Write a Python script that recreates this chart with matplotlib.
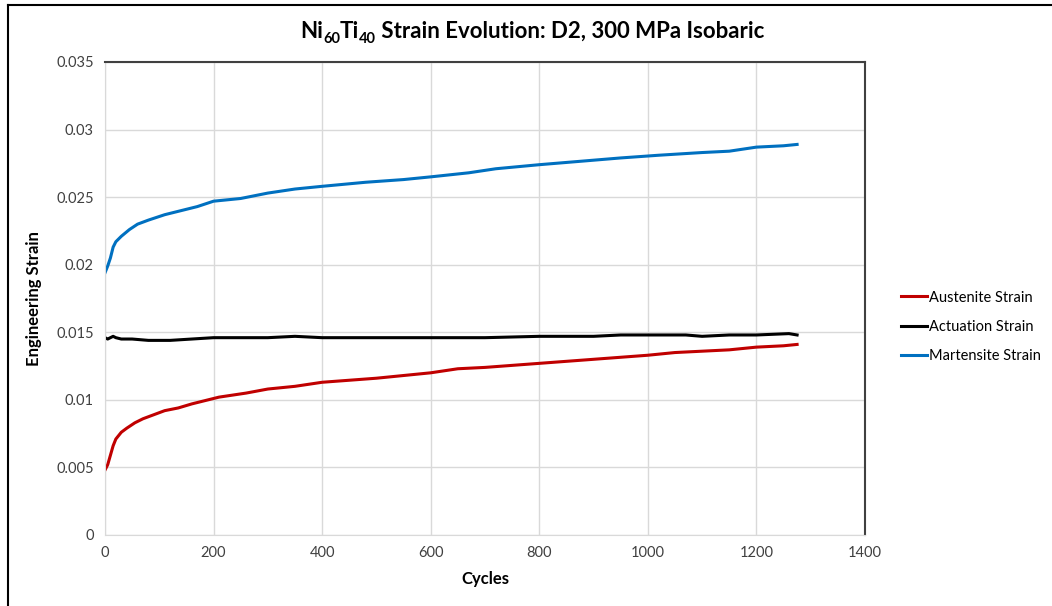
import matplotlib
matplotlib.use("Agg")
import matplotlib.pyplot as plt
from matplotlib.lines import Line2D

plt.rcParams["font.family"] = ["Lato", "DejaVu Sans"]

# Werte
mart_x = [0, 5, 10, 15, 20, 30, 45, 60, 80, 110, 140, 170, 200, 250, 300, 350, 400, 480, 550,
          600, 670, 720, 800, 860, 950, 1020, 1100, 1150, 1200, 1250, 1275]
mart_y = [0.0194, 0.0199, 0.0205, 0.0213, 0.0217, 0.0221, 0.0226, 0.0230, 0.0233, 0.0237, 0.0240,
          0.0243, 0.0247, 0.0249, 0.0253, 0.0256, 0.0258, 0.0261, 0.0263, 0.0265, 0.0268, 0.0271,
          0.0274, 0.0276, 0.0279, 0.0281, 0.0283, 0.0284, 0.0287, 0.0288, 0.0289]

aust_x = [0, 5, 10, 15, 20, 30, 40, 55, 70, 90, 110, 135, 160, 210, 260, 300, 350, 400, 500,
          600, 650, 700, 800, 900, 1000, 1050, 1100, 1150, 1200, 1250, 1275]
aust_y = [0.0048, 0.0052, 0.0059, 0.0066, 0.0071, 0.0076, 0.0079, 0.0083, 0.0086, 0.0089, 0.0092,
          0.0094, 0.0097, 0.0102, 0.0105, 0.0108, 0.0110, 0.0113, 0.0116, 0.0120, 0.0123, 0.0124,
          0.0127, 0.0130, 0.0133, 0.0135, 0.0136, 0.0137, 0.0139, 0.0140, 0.0141]

act_x = [0, 5, 10, 15, 20, 30, 50, 80, 120, 160, 200, 250, 300, 350, 400, 450, 500, 600, 700,
         800, 900, 950, 1000, 1070, 1100, 1150, 1200, 1260, 1275]
act_y = [0.0146, 0.0145, 0.0146, 0.0147, 0.0146, 0.0145, 0.0145, 0.0144, 0.0144, 0.0145, 0.0146,
         0.0146, 0.0146, 0.0147, 0.0146, 0.0146, 0.0146, 0.0146, 0.0146, 0.0147, 0.0147, 0.0148,
         0.0148, 0.0148, 0.0147, 0.0148, 0.0148, 0.0149, 0.0148]

y_ticks = [0, 0.005, 0.01, 0.015, 0.02, 0.025, 0.03, 0.035]
y_labels = ["0", "0.005", "0.01", "0.015", "0.02", "0.025", "0.03", "0.035"]
x_ticks = [0, 200, 400, 600, 800, 1000, 1200, 1400]

# Titel in Stücken (Text, Schriftgröße, Versatz nach unten in pt)
title_parts = [("Ni", 16, 0), ("60", 10.5, 3.5), ("Ti", 16, 0), ("40", 10.5, 3.5),
               (" Strain Evolution: D2, 300 MPa Isobaric", 16, 0)]

fig = plt.figure(figsize=(10.52, 6.06), dpi=100)
ax = fig.add_axes([0.0998, 0.1172, 0.7224, 0.7805])

ax.plot(aust_x, aust_y, color="#C00000", lw=2.2, label="Austenite Strain")
ax.plot(act_x, act_y, color="#000000", lw=2.2, label="Actuation Strain")
ax.plot(mart_x, mart_y, color="#0070C0", lw=2.2, label="Martensite Strain")

ax.set_xlim(0, 1400)
ax.set_ylim(0, 0.035)
ax.set_xticks(x_ticks)
ax.set_yticks(y_ticks)
ax.set_yticklabels(y_labels)
ax.tick_params(length=0, labelsize=10.5, colors="#404040", pad=8)
ax.grid(True, color="#D9D9D9", lw=1)
ax.set_axisbelow(True)
for s in ["left", "bottom"]:
    ax.spines[s].set_color("#D9D9D9")
for s in ["top", "right"]:
    ax.spines[s].set_color("#404040")
    ax.spines[s].set_linewidth(1.5)

ax.set_xlabel("Cycles", fontsize=12, fontweight="bold", labelpad=8)
ax.set_ylabel("Engineering Strain", fontsize=12, fontweight="bold", labelpad=10)

ax.legend(loc="center left", bbox_to_anchor=(1.03, 0.44), frameon=False, fontsize=10.5,
          handlelength=1.8, handletextpad=0.1, labelspacing=1.05)

# Titel zusammensetzen: erst messen, dann zentriert platzieren
renderer = fig.canvas.get_renderer()
base_y = 0.937
texts = []
widths = []
for txt, size, drop in title_parts:
    t = fig.text(0, base_y - drop / 72 / 6.06, txt, fontsize=size, fontweight="bold",
                 ha="left", va="baseline")
    texts.append(t)
    widths.append(t.get_window_extent(renderer).width / fig.bbox.width)
x0 = 0.506 - sum(widths) / 2
for t, w in zip(texts, widths):
    t.set_x(x0)
    x0 += w

# Rahmen um die Grafik (links und oben)
fig.add_artist(Line2D([0.0076, 0.0076], [0, 0.992], color="black", lw=1.5, transform=fig.transFigure))
fig.add_artist(Line2D([0.0076, 1.0], [0.992, 0.992], color="black", lw=1.5, transform=fig.transFigure))

fig.savefig("out.png", dpi=100)
